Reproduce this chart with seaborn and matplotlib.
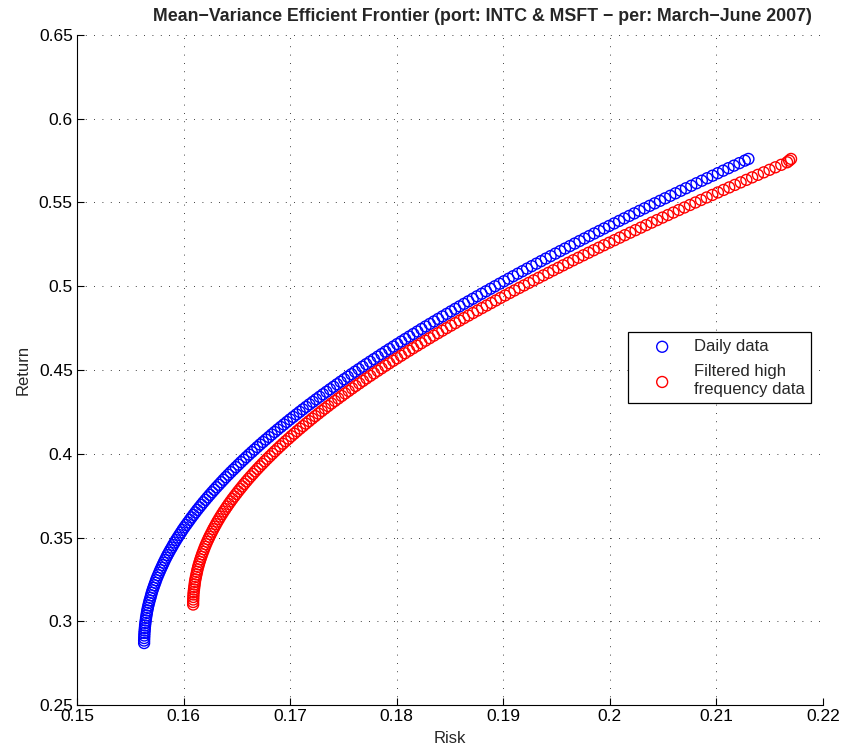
import matplotlib
matplotlib.use('Agg')
import matplotlib.pyplot as plt
import numpy as np
import pandas as pd
import seaborn as sns

# efficient frontier (return, risk)
daily_return = [0.2870, 0.2885, 0.2900, 0.2915, 0.2930, 0.2945, 0.2960, 0.2975, 0.2990, 0.3005,
                0.3020, 0.3035, 0.3050, 0.3065, 0.3080, 0.3095, 0.3110, 0.3125, 0.3140, 0.3155,
                0.3170, 0.3185, 0.3200, 0.3215, 0.3230, 0.3245, 0.3260, 0.3275, 0.3290, 0.3305,
                0.3320, 0.3335, 0.3350, 0.3365, 0.3380, 0.3395, 0.3410, 0.3425, 0.3440, 0.3455,
                0.3470, 0.3485, 0.3500, 0.3515, 0.3530, 0.3545, 0.3560, 0.3575, 0.3590, 0.3605,
                0.3620, 0.3635, 0.3650, 0.3665, 0.3680, 0.3695, 0.3710, 0.3725, 0.3740, 0.3755,
                0.3770, 0.3785, 0.3800, 0.3815, 0.3830, 0.3845, 0.3860, 0.3875, 0.3890, 0.3905,
                0.3920, 0.3935, 0.3950, 0.3965, 0.3980, 0.3995, 0.4010, 0.4025, 0.4040, 0.4055,
                0.4070, 0.4085, 0.4100, 0.4115, 0.4130, 0.4145, 0.4160, 0.4175, 0.4190, 0.4205,
                0.4220, 0.4235, 0.4250, 0.4265, 0.4280, 0.4295, 0.4310, 0.4325, 0.4340, 0.4355,
                0.4370, 0.4385, 0.4400, 0.4415, 0.4430, 0.4445, 0.4460, 0.4475, 0.4490, 0.4505,
                0.4520, 0.4535, 0.4550, 0.4565, 0.4580, 0.4595, 0.4610, 0.4625, 0.4640, 0.4655,
                0.4670, 0.4685, 0.4700, 0.4715, 0.4730, 0.4745, 0.4760, 0.4775, 0.4790, 0.4805,
                0.4820, 0.4835, 0.4850, 0.4865, 0.4880, 0.4895, 0.4910, 0.4925, 0.4940, 0.4955,
                0.4970, 0.4985, 0.5000, 0.5015, 0.5030, 0.5045, 0.5060, 0.5075, 0.5090, 0.5105,
                0.5120, 0.5135, 0.5150, 0.5165, 0.5180, 0.5195, 0.5210, 0.5225, 0.5240, 0.5255,
                0.5270, 0.5285, 0.5300, 0.5315, 0.5330, 0.5345, 0.5360, 0.5375, 0.5390, 0.5405,
                0.5420, 0.5435, 0.5450, 0.5465, 0.5480, 0.5495, 0.5510, 0.5525, 0.5540, 0.5555,
                0.5570, 0.5585, 0.5600, 0.5615, 0.5630, 0.5645, 0.5660, 0.5675, 0.5690, 0.5705,
                0.5720, 0.5735, 0.5750, 0.5760]
daily_risk = [0.15630, 0.15630, 0.15631, 0.15632, 0.15633, 0.15635, 0.15637, 0.15639, 0.15642, 0.15645,
              0.15648, 0.15652, 0.15656, 0.15660, 0.15665, 0.15670, 0.15676, 0.15682, 0.15689, 0.15695,
              0.15702, 0.15709, 0.15717, 0.15725, 0.15734, 0.15742, 0.15751, 0.15761, 0.15771, 0.15781,
              0.15792, 0.15803, 0.15814, 0.15825, 0.15837, 0.15849, 0.15862, 0.15875, 0.15889, 0.15902,
              0.15916, 0.15930, 0.15945, 0.15960, 0.15976, 0.15991, 0.16007, 0.16024, 0.16041, 0.16058,
              0.16075, 0.16093, 0.16111, 0.16129, 0.16148, 0.16167, 0.16186, 0.16206, 0.16226, 0.16246,
              0.16267, 0.16288, 0.16309, 0.16331, 0.16353, 0.16375, 0.16397, 0.16420, 0.16443, 0.16467,
              0.16491, 0.16515, 0.16539, 0.16564, 0.16589, 0.16614, 0.16640, 0.16666, 0.16692, 0.16718,
              0.16745, 0.16772, 0.16800, 0.16827, 0.16855, 0.16883, 0.16912, 0.16941, 0.16970, 0.16999,
              0.17029, 0.17059, 0.17089, 0.17119, 0.17150, 0.17181, 0.17213, 0.17244, 0.17276, 0.17308,
              0.17341, 0.17374, 0.17407, 0.17440, 0.17473, 0.17507, 0.17541, 0.17575, 0.17609, 0.17644,
              0.17679, 0.17714, 0.17750, 0.17786, 0.17822, 0.17858, 0.17894, 0.17931, 0.17968, 0.18005,
              0.18042, 0.18080, 0.18118, 0.18156, 0.18194, 0.18232, 0.18271, 0.18310, 0.18350, 0.18389,
              0.18429, 0.18469, 0.18509, 0.18549, 0.18590, 0.18631, 0.18672, 0.18713, 0.18754, 0.18796,
              0.18838, 0.18880, 0.18922, 0.18964, 0.19007, 0.19050, 0.19093, 0.19136, 0.19180, 0.19223,
              0.19267, 0.19311, 0.19355, 0.19399, 0.19444, 0.19489, 0.19534, 0.19579, 0.19625, 0.19670,
              0.19715, 0.19761, 0.19807, 0.19853, 0.19900, 0.19946, 0.19993, 0.20040, 0.20087, 0.20134,
              0.20182, 0.20229, 0.20277, 0.20325, 0.20373, 0.20421, 0.20470, 0.20518, 0.20567, 0.20616,
              0.20665, 0.20714, 0.20764, 0.20813, 0.20863, 0.20913, 0.20963, 0.21013, 0.21063, 0.21113,
              0.21164, 0.21215, 0.21266, 0.21300]

hf_return = [0.3100, 0.3115, 0.3130, 0.3145, 0.3160, 0.3175, 0.3190, 0.3205, 0.3220, 0.3235,
             0.3250, 0.3265, 0.3280, 0.3295, 0.3310, 0.3325, 0.3340, 0.3355, 0.3370, 0.3385,
             0.3400, 0.3415, 0.3430, 0.3445, 0.3460, 0.3475, 0.3490, 0.3505, 0.3520, 0.3535,
             0.3550, 0.3565, 0.3580, 0.3595, 0.3610, 0.3625, 0.3640, 0.3655, 0.3670, 0.3685,
             0.3700, 0.3715, 0.3730, 0.3745, 0.3760, 0.3775, 0.3790, 0.3805, 0.3820, 0.3835,
             0.3850, 0.3865, 0.3880, 0.3895, 0.3910, 0.3925, 0.3940, 0.3955, 0.3970, 0.3985,
             0.4000, 0.4015, 0.4030, 0.4045, 0.4060, 0.4075, 0.4090, 0.4105, 0.4120, 0.4135,
             0.4150, 0.4165, 0.4180, 0.4195, 0.4210, 0.4225, 0.4240, 0.4255, 0.4270, 0.4285,
             0.4300, 0.4315, 0.4330, 0.4345, 0.4360, 0.4375, 0.4390, 0.4405, 0.4420, 0.4435,
             0.4450, 0.4465, 0.4480, 0.4495, 0.4510, 0.4525, 0.4540, 0.4555, 0.4570, 0.4585,
             0.4600, 0.4615, 0.4630, 0.4645, 0.4660, 0.4675, 0.4690, 0.4705, 0.4720, 0.4735,
             0.4750, 0.4765, 0.4780, 0.4795, 0.4810, 0.4825, 0.4840, 0.4855, 0.4870, 0.4885,
             0.4900, 0.4915, 0.4930, 0.4945, 0.4960, 0.4975, 0.4990, 0.5005, 0.5020, 0.5035,
             0.5050, 0.5065, 0.5080, 0.5095, 0.5110, 0.5125, 0.5140, 0.5155, 0.5170, 0.5185,
             0.5200, 0.5215, 0.5230, 0.5245, 0.5260, 0.5275, 0.5290, 0.5305, 0.5320, 0.5335,
             0.5350, 0.5365, 0.5380, 0.5395, 0.5410, 0.5425, 0.5440, 0.5455, 0.5470, 0.5485,
             0.5500, 0.5515, 0.5530, 0.5545, 0.5560, 0.5575, 0.5590, 0.5605, 0.5620, 0.5635,
             0.5650, 0.5665, 0.5680, 0.5695, 0.5710, 0.5725,
             0.5740, 0.5750, 0.5760]
hf_risk = [0.16090, 0.16090, 0.16091, 0.16092, 0.16093, 0.16095, 0.16098, 0.16101, 0.16104, 0.16107,
           0.16111, 0.16116, 0.16121, 0.16126, 0.16131, 0.16137, 0.16144, 0.16151, 0.16158, 0.16166,
           0.16174, 0.16183, 0.16192, 0.16201, 0.16211, 0.16221, 0.16232, 0.16243, 0.16255, 0.16267,
           0.16279, 0.16292, 0.16305, 0.16318, 0.16332, 0.16346, 0.16361, 0.16376, 0.16392, 0.16408,
           0.16424, 0.16441, 0.16458, 0.16476, 0.16494, 0.16512, 0.16531, 0.16550, 0.16569, 0.16589,
           0.16609, 0.16630, 0.16651, 0.16672, 0.16694, 0.16716, 0.16739, 0.16762, 0.16785, 0.16809,
           0.16833, 0.16857, 0.16882, 0.16907, 0.16932, 0.16958, 0.16985, 0.17011, 0.17038, 0.17065,
           0.17093, 0.17121, 0.17149, 0.17178, 0.17207, 0.17236, 0.17266, 0.17296, 0.17327, 0.17357,
           0.17388, 0.17420, 0.17452, 0.17484, 0.17516, 0.17549, 0.17582, 0.17615, 0.17649, 0.17683,
           0.17717, 0.17752, 0.17787, 0.17822, 0.17858, 0.17894, 0.17930, 0.17967, 0.18004, 0.18041,
           0.18078, 0.18116, 0.18154, 0.18192, 0.18231, 0.18270, 0.18309, 0.18348, 0.18388, 0.18428,
           0.18468, 0.18509, 0.18550, 0.18591, 0.18632, 0.18674, 0.18716, 0.18758, 0.18801, 0.18844,
           0.18887, 0.18930, 0.18973, 0.19017, 0.19061, 0.19105, 0.19150, 0.19195, 0.19240, 0.19285,
           0.19331, 0.19377, 0.19423, 0.19469, 0.19516, 0.19562, 0.19609, 0.19656, 0.19704, 0.19752,
           0.19800, 0.19848, 0.19896, 0.19945, 0.19994, 0.20043, 0.20092, 0.20141, 0.20191, 0.20241,
           0.20291, 0.20341, 0.20392, 0.20443, 0.20494, 0.20545, 0.20596, 0.20647, 0.20699, 0.20751,
           0.20803, 0.20855, 0.20908, 0.20961, 0.21014, 0.21067, 0.21120, 0.21173, 0.21227, 0.21281,
           0.21335, 0.21389, 0.21444, 0.21498, 0.21553, 0.21608,
           0.21663, 0.21682, 0.21700]

xticks = [0.15, 0.16, 0.17, 0.18, 0.19, 0.20, 0.21, 0.22]
xtick_labels = ['0.15', '0.16', '0.17', '0.18', '0.19', '0.2', '0.21', '0.22']
yticks = [0.25, 0.30, 0.35, 0.40, 0.45, 0.50, 0.55, 0.60, 0.65]
ytick_labels = ['0.25', '0.3', '0.35', '0.4', '0.45', '0.5', '0.55', '0.6', '0.65']

sns.set_style('white')
plt.rcParams['font.family'] = ['Liberation Sans', 'DejaVu Sans']

fig = plt.figure(figsize=(8.43, 7.49), dpi=100)
ax = fig.add_axes([0.0913, 0.0587, 0.885, 0.8946])

df1 = pd.DataFrame({'Risk': daily_risk, 'Return': daily_return})
df2 = pd.DataFrame({'Risk': hf_risk, 'Return': hf_return})
sns.scatterplot(data=df1, x='Risk', y='Return', marker='o', s=62, facecolor='none',
                edgecolor='#0000ff', linewidth=1.0, label='Daily data', ax=ax, zorder=3)
sns.scatterplot(data=df2, x='Risk', y='Return', marker='o', s=62, facecolor='none',
                edgecolor='#ff0000', linewidth=1.0, label='Filtered high\nfrequency data', ax=ax, zorder=3)

ax.set_xlim(0.15, 0.22)
ax.set_ylim(0.25, 0.65)
ax.set_xticks(xticks)
ax.set_xticklabels(xtick_labels)
ax.set_yticks(yticks)
ax.set_yticklabels(ytick_labels)
ax.tick_params(direction='in', length=5, width=0.8, labelsize=12.5, colors='black',
               bottom=True, left=True, pad=3)
ax.grid(True, linestyle=(0, (1, 9)), color='black', linewidth=0.6)
ax.spines['top'].set_visible(False)
ax.spines['right'].set_visible(False)
for s in ['left', 'bottom']:
    ax.spines[s].set_color('black')
    ax.spines[s].set_linewidth(0.8)

ax.set_xlabel('Risk', fontsize=12, labelpad=5)
ax.set_ylabel('Return', fontsize=12, labelpad=6)
ax.set_title('Mean\u2212Variance Efficient Frontier (port: INTC & MSFT \u2212 per: March\u2212June 2007)',
             fontsize=12.8, weight='bold', pad=10, x=0.543)

leg = ax.legend(loc='upper left', bbox_to_anchor=(0.7386, 0.556), fontsize=12,
                frameon=True, fancybox=False, edgecolor='black', framealpha=1,
                borderpad=0.4, handlelength=3.3, handletextpad=0.25,
                labelspacing=0.6, borderaxespad=0)
leg.get_frame().set_linewidth(0.9)

plt.savefig('out.png', dpi=100)
